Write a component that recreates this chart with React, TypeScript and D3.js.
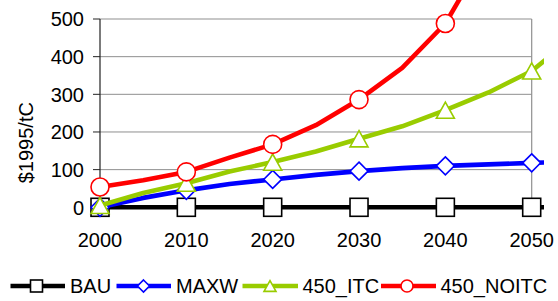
import React from "react";
import * as d3 from "d3";

const years = [2000, 2005, 2010, 2015, 2020, 2025, 2030, 2035, 2040, 2045, 2050, 2055];
const markerYears = [2000, 2010, 2020, 2030, 2040, 2050];
const bau = [0, 0, 0, 0, 0, 0, 0, 0, 0, 0, 0, 0];
const maxw = [0, 25, 45, 62, 74, 86, 96, 104, 110, 114, 118, 121];
const itc450 = [5, 38, 64, 95, 120, 148, 182, 215, 258, 305, 362, 455];
const noitc450 = [54, 72, 94, 132, 167, 218, 286, 370, 488, 685, 950, 1250];
const yTicks = [0, 100, 200, 300, 400, 500];
const xTicks = [2000, 2010, 2020, 2030, 2040, 2050];
const seriesNames = ["BAU", "MAXW", "450_ITC", "450_NOITC"];

const W = 558;
const H = 301;
const FONT = "'Liberation Sans', Arial, sans-serif";

type Kind = "square" | "diamond" | "triangle" | "circle";

function Marker({ kind, x, y, s, color }: { kind: Kind; x: number; y: number; s: number; color: string }) {
  const h = s / 2;
  const common = { fill: "#fff", stroke: color, strokeWidth: 1.6 };
  if (kind === "square") return <rect x={x - h} y={y - h} width={s} height={s} {...common} />;
  if (kind === "diamond")
    return <path d={`M${x},${y - h}L${x + h},${y}L${x},${y + h}L${x - h},${y}Z`} {...common} />;
  if (kind === "triangle") {
    const th = s * 0.9;
    return <path d={`M${x},${y - th / 2}L${x + h},${y + th / 2}L${x - h},${y + th / 2}Z`} {...common} />;
  }
  return <circle cx={x} cy={y} r={h} {...common} />;
}

export default function App() {
  const x = d3.scaleLinear().domain([2000, 2050]).range([100, 531.7]);
  const y = d3.scaleLinear().domain([0, 500]).range([207.3, 19]);

  const series: { name: string; values: number[]; color: string; kind: Kind }[] = [
    { name: seriesNames[0], values: bau, color: "#000000", kind: "square" },
    { name: seriesNames[1], values: maxw, color: "#0000FF", kind: "diamond" },
    { name: seriesNames[2], values: itc450, color: "#99CC00", kind: "triangle" },
    { name: seriesNames[3], values: noitc450, color: "#FF0000", kind: "circle" },
  ];

  const line = d3
    .line<number>()
    .x((_, i) => x(years[i]))
    .y((v) => y(v));

  const legendItems = [
    { lx0: 10.5, lx1: 65, mx: 36.5, tx: 70 },
    { lx0: 116.5, lx1: 171, mx: 143.5, tx: 176 },
    { lx0: 242.5, lx1: 298, mx: 270, tx: 302.5 },
    { lx0: 381, lx1: 436, mx: 407, tx: 440.5 },
  ];
  const legendY = 286;

  return (
    <svg
      width={W}
      height={H}
      style={{ position: "absolute", left: 0, top: 0, background: "#fff" }}
      fontFamily={FONT}
    >
      <defs>
        <clipPath id="plotclip">
          <rect x={0} y={-50} width={544} height={H + 50} />
        </clipPath>
      </defs>
      <rect x={0} y={0} width={W} height={H} fill="#fff" />
      {/* gridlines */}
      {yTicks.map((t) => (
        <line key={t} x1={x(2000)} x2={x(2050)} y1={y(t)} y2={y(t)} stroke="#8f8f8f" strokeWidth={1} />
      ))}
      {/* right border */}
      <line x1={x(2050)} x2={x(2050)} y1={y(500)} y2={y(0)} stroke="#8f8f8f" strokeWidth={1.2} />
      {/* left axis */}
      <line x1={x(2000)} x2={x(2000)} y1={y(500)} y2={y(0)} stroke="#222" strokeWidth={1.2} />
      {yTicks.map((t) => (
        <line key={"tk" + t} x1={x(2000) - 7} x2={x(2000)} y1={y(t)} y2={y(t)} stroke="#222" strokeWidth={1} />
      ))}
      {yTicks.map((t) => (
        <text key={"yl" + t} x={84} y={y(t)} dy="0.36em" textAnchor="end" fontSize={20} fill="#000">
          {t}
        </text>
      ))}
      {xTicks.map((t) => (
        <text key={"xl" + t} x={x(t)} y={247} textAnchor="middle" fontSize={20} fill="#000">
          {t}
        </text>
      ))}
      <text
        transform={`translate(32.5,142.7) rotate(-90)`}
        textAnchor="middle"
        fontSize={20}
        fill="#000"
      >
        $1995/tC
      </text>
      {/* series */}
      <g clipPath="url(#plotclip)">
        {series.map((s) => (
          <g key={s.name}>
            <path d={line(s.values) || ""} fill="none" stroke={s.color} strokeWidth={4.6} strokeLinejoin="round" />
            {markerYears.map((yr) => {
              const i = years.indexOf(yr);
              return <Marker key={yr} kind={s.kind} x={x(yr)} y={y(s.values[i])} s={18} color={s.color} />;
            })}
          </g>
        ))}
      </g>
      {/* legend */}
      {series.map((s, i) => {
        const li = legendItems[i];
        return (
          <g key={"lg" + s.name}>
            <line x1={li.lx0} x2={li.lx1} y1={legendY} y2={legendY} stroke={s.color} strokeWidth={4.6} />
            <Marker kind={s.kind} x={li.mx} y={legendY} s={12} color={s.color} />
            <text x={li.tx} y={legendY + 7.2} fontSize={20} fill="#000">
              {s.name}
            </text>
          </g>
        );
      })}
    </svg>
  );
}
